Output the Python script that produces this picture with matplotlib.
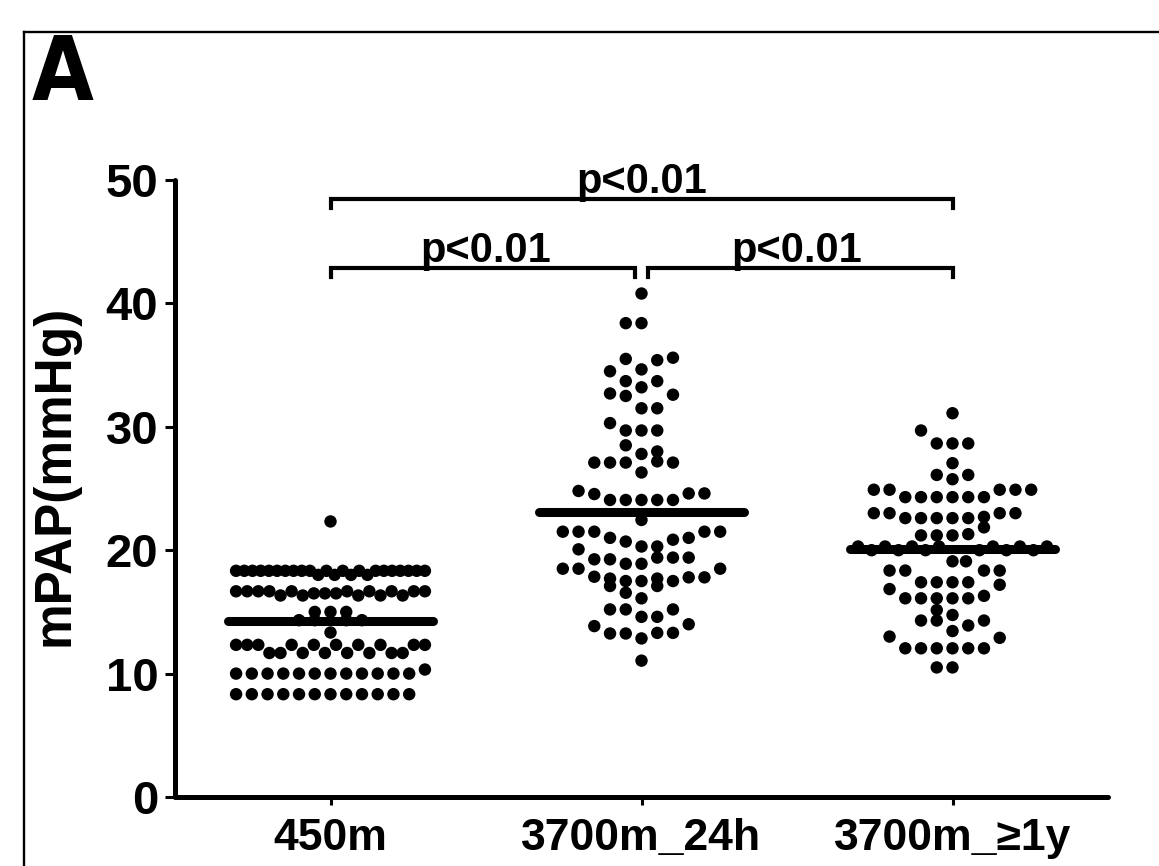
import matplotlib
matplotlib.use('Agg')
import matplotlib.pyplot as plt
import numpy as np
from matplotlib import font_manager
from matplotlib.lines import Line2D

plt.rcParams['font.family'] = ['Liberation Sans', 'DejaVu Sans']
plt.rcParams['font.weight'] = 'bold'

# a condensed face for the panel letter, if one is installed
letter_font = {'family': 'Liberation Sans', 'size': 58}
for f in font_manager.fontManager.ttflist:
    if f.name == 'Liberation Sans Narrow' or (f.name == 'DejaVu Sans' and f.stretch == 'condensed'):
        letter_font = {'family': f.name, 'stretch': f.stretch, 'size': 64}
        break

groups = ['450m', '3700m_24h', '3700m_\u22651y']

# mPAP values per group (mmHg)
mpap_450m = [
    8.33, 8.33, 8.33, 8.33, 8.33, 8.33, 8.33, 8.33, 8.33, 8.33, 8.33, 8.33,
    10.0, 10.0, 10.0, 10.0, 10.0, 10.0, 10.0, 10.0, 10.0, 10.0, 10.0, 10.0, 10.33,
    12.33, 12.33, 12.33, 11.67, 11.67, 12.33, 11.67, 12.33, 11.67, 12.33, 11.67,
    12.33, 11.67, 12.33, 11.67, 11.67, 12.33, 12.33,
    14.33, 14.33, 13.33, 14.33, 14.33,
    15.0, 15.0, 15.0,
    16.67, 16.67, 16.67, 16.67, 16.33, 16.67, 16.33, 16.5, 16.5, 16.5, 16.67,
    16.33, 16.67, 16.33, 16.67, 16.33, 16.67, 16.67,
    18.33, 18.33, 18.33, 18.33, 18.33, 18.33, 18.33, 18.33, 18.33, 18.33,
    18.0, 18.33, 18.0, 18.33, 18.0, 18.33, 18.0,
    18.33, 18.33, 18.33, 18.33, 18.33, 18.33, 18.33,
    22.33,
]
mpap_3700m_24h = [
    11.05,
    13.85, 13.25, 13.25, 12.85, 13.3, 13.3, 14.0,
    15.2, 15.2, 14.6, 14.6, 15.2,
    17.1, 16.55, 16.1, 17.1,
    18.5, 18.5, 17.85, 17.7, 17.5, 17.5, 17.7, 17.5, 17.8, 17.8, 18.5,
    20.07, 19.26, 19.26, 18.9, 18.9, 19.4, 19.4, 19.4,
    21.5, 21.5, 21.5, 21.0, 20.7, 20.3, 20.3, 20.85, 21.0, 21.5, 21.5,
    22.45,
    24.8, 24.55, 24.07, 24.07, 24.07, 24.07, 24.07, 24.6, 24.6,
    27.1, 27.1, 27.1, 26.3, 27.2, 27.1,
    28.5, 27.8, 28.0,
    30.3, 29.7, 29.7, 29.7,
    32.7, 32.5, 31.5, 31.5, 32.6,
    33.7, 33.2, 33.7,
    34.5, 35.5, 34.65, 35.4, 35.6,
    38.4, 38.4,
    40.8,
]
mpap_3700m_1y = [
    10.5, 10.5,
    13.0, 12.05, 12.05, 12.05, 12.05, 12.05, 12.05, 12.9,
    14.3, 14.3, 13.45, 13.9, 14.3,
    15.15, 14.75,
    16.85, 16.1, 16.1, 16.1, 16.1, 16.1, 16.3, 17.2,
    18.35, 18.35, 17.4, 17.4, 17.4, 17.4, 18.35, 18.35,
    20.3, 20.0, 20.3, 20.0, 20.3, 20.0, 20.3, 19.1, 19.1, 20.0, 20.3, 20.0, 20.3, 20.0, 20.3,
    21.2, 21.2, 21.2, 21.3, 21.85,
    23.0, 23.0, 22.6, 22.6, 22.6, 22.6, 22.6, 22.7, 23.0, 23.0,
    24.9, 24.9, 24.3, 24.3, 24.3, 24.3, 24.3, 24.3, 24.9, 24.9, 24.9,
    26.1, 25.75, 26.1,
    27.05,
    29.7, 28.65, 28.65, 28.65,
    31.1,
]
center_lines = [14.3, 23.07, 20.1]

comparisons = [(1, 3), (1, 2), (2, 3)]
p_texts = ['p<0.01', 'p<0.01', 'p<0.01']


def dot_offsets(values, h=1.25, pitch=0.0506, max_slots=13):
    # prism-like layout: bin values bottom-up, spread each bin side by side
    vals = np.asarray(values, dtype=float)
    order = np.argsort(vals, kind='stable')
    offs = np.zeros(len(vals))
    i = 0
    while i < len(order):
        start = vals[order[i]]
        j = i
        while j < len(order) and vals[order[j]] < start + h:
            j += 1
        idx = sorted(order[i:j])
        n = len(idx)
        for k, m in enumerate(idx):
            if n <= max_slots:
                offs[m] = (k - n // 2) * pitch
            else:
                offs[m] = (k - (n - 1) / 2) * pitch * (max_slots - 1) / (n - 1)
        i = j
    return offs


fig = plt.figure(figsize=(11.59, 8.66), dpi=100)
ax = fig.add_axes([175 / 1159, 69 / 866, 933 / 1159, 617 / 866])

for i, vals in enumerate([mpap_450m, mpap_3700m_24h, mpap_3700m_1y]):
    xs = i + 1 + dot_offsets(vals)
    ax.scatter(xs, vals, s=80, c='black', edgecolors='none', zorder=2, clip_on=False)
    ax.plot([i + 1 - 0.33, i + 1 + 0.33], [center_lines[i], center_lines[i]],
            color='black', lw=6.5, solid_capstyle='round', zorder=3)

ax.set_xlim(0.5, 3.5)
ax.set_ylim(0, 50)
ax.spines['top'].set_visible(False)
ax.spines['right'].set_visible(False)
ax.spines['left'].set_linewidth(3.6)
ax.spines['bottom'].set_linewidth(3.6)
ax.spines['left'].set_capstyle('round')
ax.spines['bottom'].set_capstyle('round')

ax.set_yticks([0, 10, 20, 30, 40, 50])
ax.set_xticks([1, 2, 3])
ax.set_xticklabels(groups)
ax.tick_params(axis='y', length=7, width=2.2, pad=5, labelsize=34)
ax.tick_params(axis='x', length=6, width=2.2, pad=9, labelsize=32)
ax.set_ylabel('mPAP(mmHg)', fontsize=37, fontweight='bold')
ax.yaxis.set_label_coords(-0.102, 0.522)

# significance brackets
levels = [48.5, 42.9, 42.9]
for (a, b), txt, y in zip(comparisons, p_texts, levels):
    x0 = a + (0.0 if a == 1 else 0.02)
    x1 = b - (0.02 if (b == 2) else 0.0)
    ax.plot([x0, x0, x1, x1], [y - 0.8, y, y, y - 0.8], color='black', lw=3,
            clip_on=False, solid_joinstyle='miter', zorder=4)
    ax.text((a + b) / 2, y + 0.45, txt, ha='center', va='baseline',
            fontsize=30, fontweight='bold')

# panel frame and letter
fig.add_artist(Line2D([24 / 1159, 1.0], [1 - 32 / 866, 1 - 32 / 866], color='black', lw=1.7))
fig.add_artist(Line2D([24 / 1159, 24 / 1159], [1 - 32 / 866, 0.0], color='black', lw=1.7))
fig.text(32 / 1159, 1 - 100 / 866, 'A', fontweight='bold', ha='left', va='baseline',
         **letter_font)

fig.savefig('out.png', dpi=100)
